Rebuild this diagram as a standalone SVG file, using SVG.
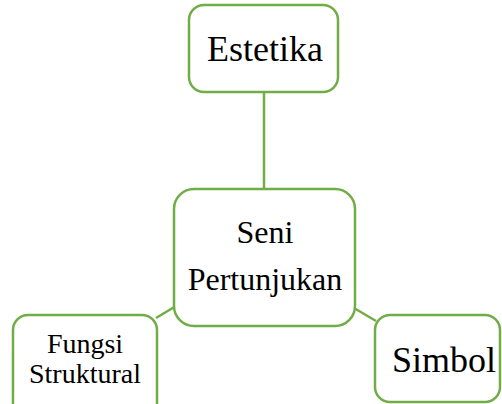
<svg xmlns="http://www.w3.org/2000/svg" width="502" height="404" viewBox="0 0 502 404">
<style>
.box{fill:#fff;stroke:#70AD47;stroke-width:2.5}
.ln{stroke:#70AD47;stroke-width:2.5;fill:none}
text{font-family:"Liberation Serif","Times New Roman",serif;fill:#000;text-anchor:middle}
</style>
<rect width="502" height="404" fill="#fff"/>
<g id="connectors">
<line class="ln" x1="264" y1="92" x2="264" y2="189"/>
<line class="ln" x1="176" y1="306" x2="156" y2="318"/>
<line class="ln" x1="354" y1="308" x2="376" y2="321"/>
</g>
<g id="estetika">
<rect class="box" x="189" y="5" width="149" height="87" rx="15"/>
<text x="265" y="61" font-size="36">Estetika</text>
</g>
<g id="seni">
<rect class="box" x="174" y="189" width="181" height="137" rx="20"/>
<text x="265" y="243" font-size="32">Seni</text>
<text x="265" y="290" font-size="32">Pertunjukan</text>
</g>
<g id="fungsi">
<rect class="box" x="13" y="315" width="144" height="110" rx="15"/>
<text x="85" y="353" font-size="28">Fungsi</text>
<text x="85" y="383" font-size="28">Struktural</text>
</g>
<g id="simbol">
<rect class="box" x="375" y="315" width="125" height="87" rx="15"/>
<text x="444" y="372" font-size="36">Simbol</text>
</g>
</svg>
